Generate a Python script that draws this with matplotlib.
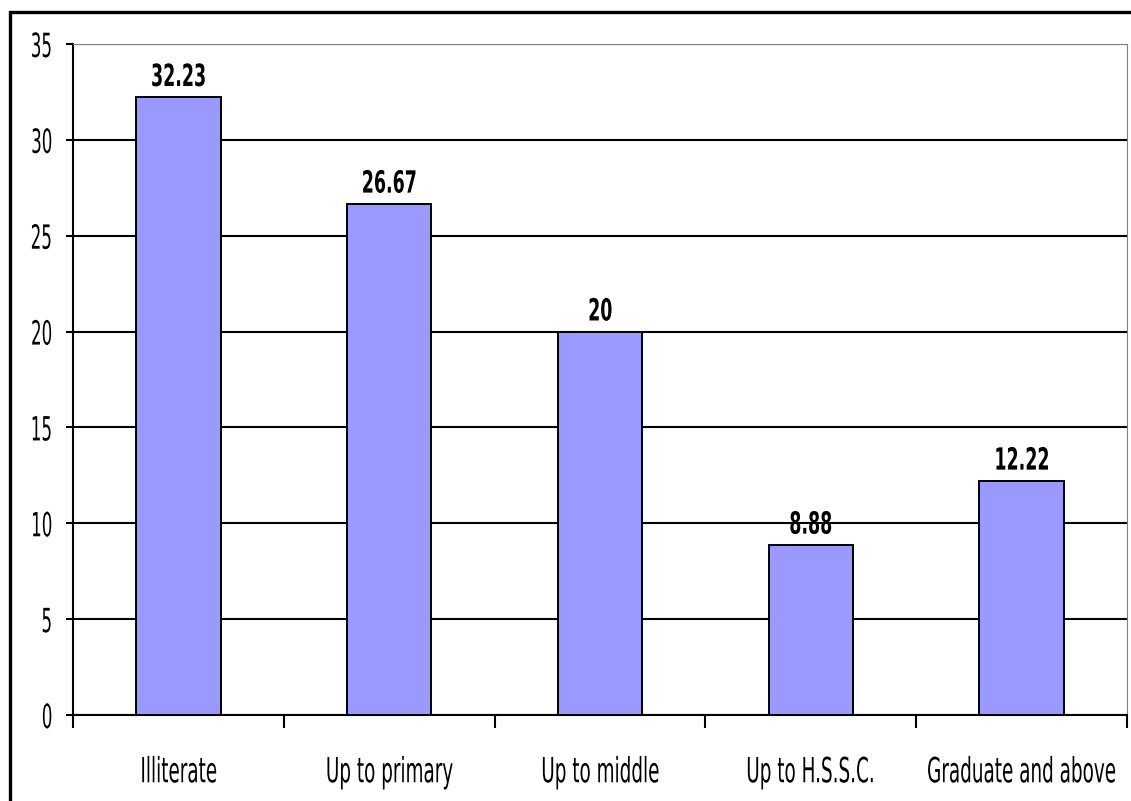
import matplotlib.pyplot as plt
from matplotlib.patches import Rectangle
from matplotlib.patheffects import AbstractPathEffect
from matplotlib.transforms import Affine2D
from matplotlib.ticker import MultipleLocator, FixedLocator

categories = ["Illiterate", "Up to primary", "Up to middle", "Up to H.S.S.C.", "Graduate and above"]
values = [32.23, 26.67, 20, 8.88, 12.22]
value_labels = ["32.23", "26.67", "20", "8.88", "12.22"]


class Squeeze(AbstractPathEffect):
    """Draw text narrower (like Arial Narrow), keeping its anchor in place."""

    def __init__(self, sx, align="center"):
        super().__init__()
        self.sx = sx
        self.align = align

    def draw_path(self, renderer, gc, tpath, affine, rgbFace=None):
        ext = tpath.get_extents(affine)
        cx = ext.x1 if self.align == "right" else (ext.x0 + ext.x1) / 2
        t = affine + Affine2D().translate(-cx, 0).scale(self.sx, 1).translate(cx, 0)
        renderer.draw_path(gc, tpath, t, rgbFace)


W, H = 1131, 801
fig = plt.figure(figsize=(W / 100, H / 100), dpi=100)
ax = fig.add_axes([73 / W, 1 - 715 / H, (1127 - 73) / W, (715 - 44) / H])

# outer chart frame (cut off on the right and bottom)
fig.patches.append(Rectangle((10 / W, -0.2), 1.5, 1.2 - 12 / H, transform=fig.transFigure,
                             fill=False, edgecolor="black", linewidth=2.4))

x = range(len(categories))
ax.bar(x, values, width=0.4, color="#9999FF", edgecolor="black", linewidth=1.4, zorder=3)

for xi, v, lab in zip(x, values, value_labels):
    ax.annotate(lab, (xi, v), xytext=(0, 8), textcoords="offset points",
                ha="center", va="baseline", fontsize=22, fontweight="bold",
                path_effects=[Squeeze(0.57)])

ax.set_xlim(-0.5, len(categories) - 0.5)
ax.set_ylim(0, 35)
ax.yaxis.set_major_locator(MultipleLocator(5))
ax.grid(axis="y", color="black", linewidth=1.5, zorder=0)
ax.set_axisbelow(True)

ax.set_xticks(list(x))
ax.set_xticklabels(categories, fontsize=25)
ax.xaxis.set_minor_locator(FixedLocator([i - 0.5 for i in range(len(categories) + 1)]))
ax.tick_params(axis="x", which="major", length=0, pad=29)
ax.tick_params(axis="x", which="minor", length=9, width=1.5, direction="out")
ax.tick_params(axis="y", length=5, width=1.5, direction="out", pad=9, labelsize=24)

for lbl in ax.get_xticklabels():
    lbl.set_path_effects([Squeeze(0.53)])
for lbl in ax.get_yticklabels():
    lbl.set_path_effects([Squeeze(0.5, "right")])

ax.spines["left"].set_linewidth(1.5)
ax.spines["bottom"].set_linewidth(1.5)
ax.spines["top"].set_color("#808080")
ax.spines["right"].set_color("#808080")

fig.savefig("out.png", dpi=100)
